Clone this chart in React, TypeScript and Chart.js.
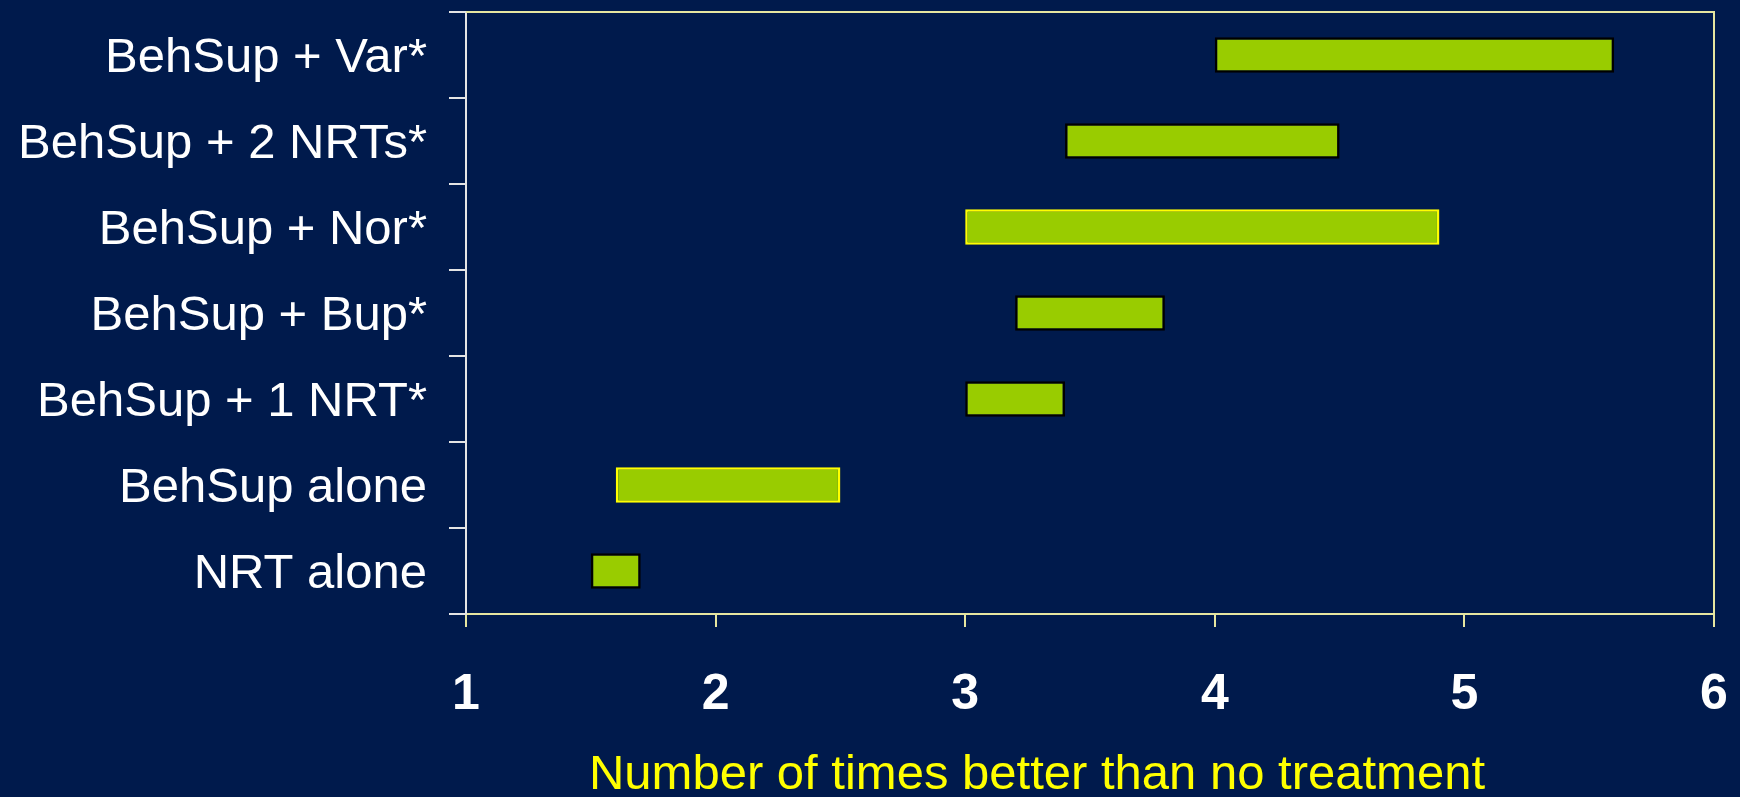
import React, { useEffect, useRef } from "react";
import { Chart, registerables } from "chart.js";

Chart.register(...registerables);

const categories = [
  "BehSup + Var*",
  "BehSup + 2 NRTs*",
  "BehSup + Nor*",
  "BehSup + Bup*",
  "BehSup + 1 NRT*",
  "BehSup alone",
  "NRT alone",
];
const lowValues = [4.0, 3.4, 3.0, 3.2, 3.0, 1.6, 1.5];
const highValues = [5.6, 4.5, 4.9, 3.8, 3.4, 2.5, 1.7];
const xTickValues = [1, 2, 3, 4, 5, 6];
const xTitle = "Number of times better than no treatment";

const BG = "#001A4C";
const BAR_FILL = "#99CC00";
const YELLOW = "#FFFF00";
const PALE = "#E6E6A0";
const AXIS_WHITE = "#E4E4E4";
const barBorders = ["#000000", "#000000", YELLOW, "#000000", "#000000", YELLOW, "#000000"];

const W = 1740;
const H = 797;
const TITLE_SHIFT = -53;

export default function App() {
  const ref = useRef<HTMLCanvasElement | null>(null);

  useEffect(() => {
    document.body.style.margin = "0";
    document.body.style.background = BG;
    const canvas = ref.current;
    if (!canvas) return;

    const bgPlugin = {
      id: "bgPlugin",
      beforeDraw(chart: any) {
        const ctx = chart.ctx;
        ctx.save();
        ctx.fillStyle = BG;
        ctx.fillRect(0, 0, chart.width, chart.height);
        ctx.restore();
      },
      afterDraw(chart: any) {
        const { ctx, chartArea } = chart;
        ctx.save();
        ctx.strokeStyle = PALE;
        ctx.lineWidth = 2;
        ctx.beginPath();
        ctx.moveTo(chartArea.left, chartArea.top);
        ctx.lineTo(chartArea.right, chartArea.top);
        ctx.lineTo(chartArea.right, chartArea.bottom);
        ctx.stroke();
        // x-axis title
        const xs = chart.scales.x;
        ctx.fillStyle = YELLOW;
        ctx.font = "49px 'Liberation Sans'";
        ctx.textAlign = "center";
        ctx.textBaseline = "middle";
        ctx.fillText(xTitle, (xs.left + xs.right) / 2 + TITLE_SHIFT, xs.bottom - 22);
        ctx.restore();
      },
    };

    const data = categories.map((_, i) => [lowValues[i], highValues[i]]);

    const chart = new Chart(canvas, {
      type: "bar",
      data: {
        labels: categories,
        datasets: [
          {
            data: data as any,
            backgroundColor: BAR_FILL,
            borderColor: barBorders,
            borderWidth: 2.5,
            borderSkipped: false,
            categoryPercentage: 1,
            barPercentage: 0.41,
          },
        ],
      },
      options: {
        indexAxis: "y",
        animation: false,
        responsive: false,
        layout: { padding: { top: 12, right: 26, left: 0, bottom: 0 } },
        plugins: {
          legend: { display: false },
          tooltip: { enabled: false },
        },
        scales: {
          x: {
            type: "linear",
            min: xTickValues[0],
            max: xTickValues[xTickValues.length - 1],
            afterBuildTicks(scale: any) {
              scale.ticks = xTickValues.map((v) => ({ value: v }));
            },
            afterFit(scale: any) {
              scale.height = 183;
              scale.paddingLeft = 0;
              scale.paddingRight = 0;
            },
            ticks: {
              color: "#FFFFFF",
              font: { family: "Liberation Sans", size: 50, weight: "bold" },
              padding: 38,
            },
            grid: {
              drawOnChartArea: false,
              drawTicks: true,
              tickLength: 13,
              color: PALE,
              lineWidth: 2,
            },
            border: { display: true, color: PALE, width: 2 },
            title: { display: false },
          },
          y: {
            type: "category",
            afterFit(scale: any) {
              scale.width = 466;
              scale.paddingTop = 0;
              scale.paddingBottom = 0;
            },
            ticks: {
              color: "#FFFFFF",
              font: { family: "Liberation Sans", size: 49 },
              padding: 22,
              labelOffset: 3,
            },
            grid: {
              offset: true,
              drawOnChartArea: false,
              drawTicks: true,
              tickLength: 17,
              color: AXIS_WHITE,
              lineWidth: 2,
            },
            border: { display: true, color: AXIS_WHITE, width: 2 },
          },
        },
      },
      plugins: [bgPlugin],
    });

    return () => chart.destroy();
  }, []);

  return (
    <div style={{ width: W, height: H, background: BG }}>
      <canvas ref={ref} width={W} height={H} style={{ display: "block" }} />
    </div>
  );
}
